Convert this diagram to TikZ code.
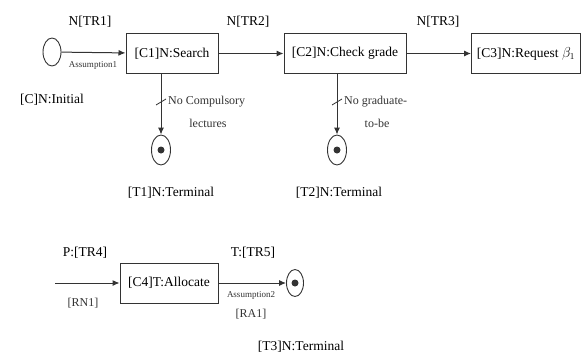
\documentclass[tikz,border=0pt]{standalone}
\usepackage{fontspec}
\setmainfont{Liberation Serif}
\usetikzlibrary{arrows.meta,shapes.geometric}
\definecolor{inkc}{HTML}{333333}

\tikzset{
  cbox/.style={draw=inkc,line width=1pt,minimum height=40pt,inner sep=2pt,
    font=\fontsize{13.5}{14}\selectfont},
  tlbl/.style={font=\fontsize{13.5}{14}\selectfont,inner sep=0pt},
  slbl/.style={font=\fontsize{12}{13}\selectfont,inner sep=0pt,text=inkc},
  tinylbl/.style={font=\fontsize{9}{10}\selectfont,inner sep=0pt,text=inkc},
  state/.style={draw=inkc,ellipse,line width=0.9pt,minimum width=19pt,minimum height=30pt,inner sep=0pt},
  flow/.style={draw=inkc,line width=1pt,-{Latex[length=7pt,width=6pt]}},
}

\begin{document}
\begin{tikzpicture}[x=1pt,y=-1pt]
  \useasboundingbox (0,0) rectangle (583,356);
  % top row
  \node[state,minimum width=18pt,minimum height=28pt] (init) at (52,52) {};
  \node[cbox,minimum width=92pt] (c1) at (172,53.5) {[C1]N:Search};
  \node[cbox,minimum width=122pt] (c2) at (345,53.5) {[C2]N:Check grade};
  \node[cbox,minimum width=109pt] (c3) at (526,53.5) {[C3]N:Request $\beta_1$};
  \draw[flow] (init) -- (c1);
  \draw[flow] (c1) -- (c2);
  \draw[flow] (c2) -- (c3);
  \node[tlbl] (tr1) at (90,22) {N[TR1]};
  \node[tlbl] (tr2) at (248,22) {N[TR2]};
  \node[tlbl] (tr3) at (438,22) {N[TR3]};
  \node[tinylbl] (as1) at (93,65) {Assumption1};
  \node[tlbl] (ini) at (52,100) {[C]N:Initial};
  % terminals below
  \foreach \tn/\cn/\xx/\lbl/\lblb/\bx in {t1/c1/161/{No Compulsory}/{lectures}/47, t2/c2/337/{No graduate-}/{to-be}/40}{
    \node[state] (\tn) at (\xx,150) {};
    \fill[inkc] (\tn) circle (3.5pt);
    \draw[flow] (\cn.south -| \tn) -- (\tn.north);
    \draw[inkc,line width=0.8pt] (\xx-5,105) -- (\xx+5,99);
    \node[slbl,anchor=west] (\tn a) at (\xx+7,102) {\lbl};
    \node[slbl] (\tn b) at (\xx+\bx,123) {\lblb};
  }
  \node[tlbl] (t1l) at (171,193) {[T1]N:Terminal};
  \node[tlbl] (t2l) at (339,193) {[T2]N:Terminal};
  % bottom row
  \coordinate (src) at (55,283);
  \node[cbox,minimum width=98pt] (c4) at (169,283) {[C4]T:Allocate};
  \node[state,minimum width=17pt,minimum height=27pt] (t3) at (295,283) {};
  \fill[inkc] (t3) circle (3.5pt);
  \draw[flow] (src) -- (c4);
  \draw[flow] (c4) -- (t3);
  \node[tlbl] (tr4) at (85,253) {P:[TR4]};
  \node[tlbl] (tr5) at (253,253) {T:[TR5]};
  \node[slbl] (rn1) at (83,303) {[RN1]};
  \node[tinylbl] (as2) at (251,295) {Assumption2};
  \node[slbl] (ra1) at (251,314) {[RA1]};
  \node[tlbl] (t3l) at (301,347) {[T3]N:Terminal};
\end{tikzpicture}
\end{document}
